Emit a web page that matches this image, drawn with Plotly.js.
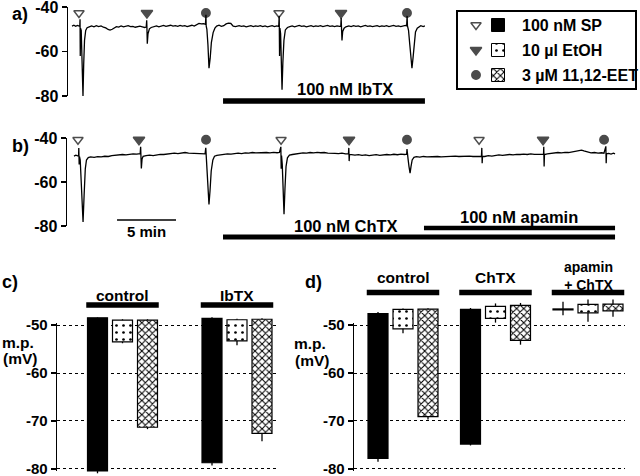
<!DOCTYPE html>
<html>
<head>
<meta charset="utf-8">
<script src="https://cdn.plot.ly/plotly-3.0.1.min.js"></script>
<style>html,body{margin:0;padding:0;background:#fff}#chart{width:640px;height:476px}</style>
</head>
<body>
<div id="chart"></div>
<script>
// ---------------- DATA ----------------
// Panel a: membrane potential recording, [time (min), mV]
const traceA = [
[0.34,-48.6],[0.5,-48.2],[0.65,-48.7],[0.8,-48.3],[0.95,-48.6],
[1.0,-48.5],[1.02,-45.5],[1.04,-62],[1.06,-49.5],[1.12,-50.5],[1.2,-66],[1.27,-80],[1.33,-66],[1.4,-55],[1.5,-50.5],[1.62,-49.3],[1.8,-48.9],
[2.0,-48.5],[2.2,-48.9],[2.4,-48.4],[2.6,-48.8],[2.8,-48.5],[3.0,-49.1],[3.2,-49.4],[3.4,-50.1],[3.56,-50.4],[3.75,-50.0],[3.9,-49.3],[4.1,-48.8],[4.3,-49.0],[4.5,-48.5],[4.7,-48.9],[4.9,-48.6],[5.1,-48.4],[5.3,-48.8],[5.5,-48.7],[5.7,-49.1],[5.9,-48.8],[6.1,-48.6],[6.3,-48.9],[6.5,-49.2],[6.63,-49.0],
[6.67,-46],[6.69,-49.5],[6.72,-56.5],[6.78,-52],[6.9,-49.8],[7.05,-49.2],
[7.3,-48.8],[7.5,-48.5],[7.7,-48.9],[7.9,-48.6],[8.1,-48.3],[8.3,-48.7],[8.5,-48.5],[8.7,-48.2],[8.9,-48.6],[9.1,-48.4],[9.3,-48.7],[9.5,-48.3],[9.7,-48.6],[9.9,-48.4],[10.1,-48.8],[10.3,-48.5],[10.5,-48.2],[10.7,-48.6],[10.9,-48.0],[11.1,-47.4],[11.3,-47.6],[11.5,-47.5],[11.65,-47.8],
[11.69,-43.5],[11.71,-48.5],[11.77,-50],[11.86,-57],[11.95,-67.5],[12.05,-63],[12.15,-56],[12.3,-51.5],[12.45,-49.5],[12.6,-48.6],
[12.8,-48.2],[13.0,-48.7],[13.2,-48.4],[13.4,-47.6],[13.6,-47.3],[13.8,-47.4],[14.0,-48.6],[14.2,-48.8],[14.5,-48.4],[14.7,-48.7],[14.9,-48.5],[15.1,-48.9],
[15.3,-48.6],[15.5,-48.4],[15.7,-48.8],[15.9,-48.5],[16.1,-48.7],[16.3,-48.4],[16.5,-48.8],[16.7,-48.5],[16.9,-48.9],[17.1,-48.6],[17.3,-48.4],[17.5,-48.8],[17.7,-48.5],[17.86,-48.7],
[17.9,-44],[17.93,-62],[17.96,-49.5],[18.02,-52],[18.08,-65],[18.14,-77.2],[18.21,-65],[18.3,-55],[18.42,-50.3],[18.6,-49.2],[18.8,-48.8],
[19.0,-48.5],[19.2,-48.9],[19.4,-48.6],[19.6,-48.3],[19.8,-48.7],[20.0,-48.5],[20.2,-48.9],[20.4,-48.6],[20.6,-48.4],[20.8,-48.8],[21.0,-48.5],[21.2,-48.7],[21.4,-48.4],[21.6,-48.8],[21.8,-48.6],[22.0,-48.3],[22.2,-48.7],[22.4,-48.5],[22.6,-48.8],[22.8,-48.5],[23.0,-48.7],[23.12,-48.6],
[23.15,-45],[23.17,-49.5],[23.22,-55],[23.28,-51],[23.4,-49.5],[23.55,-48.9],
[23.8,-48.5],[24.0,-48.8],[24.2,-48.4],[24.4,-48.7],[24.6,-48.5],[24.8,-48.9],[25.0,-48.6],[25.2,-48.3],[25.4,-48.7],[25.6,-48.5],[25.8,-48.8],[26.0,-48.6],[26.2,-48.4],[26.4,-48.8],[26.6,-48.5],[26.8,-48.7],[27.0,-48.4],[27.2,-48.8],[27.4,-48.6],[27.6,-48.3],[27.8,-48.7],[28.0,-48.5],[28.2,-48.8],[28.4,-48.5],[28.6,-48.3],[28.7,-48.5],
[28.74,-44],[28.77,-48.5],[28.86,-50.5],[28.97,-57],[29.15,-67.5],[29.24,-63],[29.33,-56],[29.45,-51.2],[29.6,-49.5],[29.75,-48.8],[29.9,-48.4],[30.1,-48.8],[30.25,-48.5]
];
const stimA_t    = [0.93, 6.69, 11.69, 17.88, 23.14, 28.73];
const stimA_type = ['SP','EtOH','EET','SP','EtOH','EET'];
const treatA_label = ['100 nM IbTX'];
const treatA_start = [13.14];
const treatA_end   = [30.25];

// Panel b recording
const traceB = [
[0.59,-48.2],[0.75,-47.8],[0.9,-48.1],[0.98,-48.0],[1.0,-44.5],[1.03,-52],[1.06,-48.5],[1.12,-50],[1.22,-63],[1.36,-78.2],[1.45,-66],[1.55,-54],[1.65,-50],[1.8,-48.9],[2.0,-48.6],[2.3,-48.8],[2.6,-48.5],[2.9,-48.6],[3.2,-48.3],[3.5,-48.4],[3.8,-48.0],[4.1,-47.8],[4.4,-47.9],[4.7,-47.5],[5.0,-47.7],[5.3,-47.4],[5.6,-47.2],[5.9,-47.3],[6.1,-47.0],
[6.2,-47.1],[6.24,-44],[6.27,-47.5],[6.3,-53.8],[6.36,-49.5],[6.45,-48.3],[6.7,-48.0],[7.0,-47.8],[7.3,-48.0],[7.6,-47.6],[7.9,-47.4],[8.2,-47.5],[8.5,-47.2],[8.8,-47.0],[9.1,-46.9],[9.4,-47.1],[9.7,-46.8],[10.0,-46.6],[10.3,-46.9],[10.6,-47.0],[10.9,-46.8],[11.2,-47.1],[11.5,-47.0],[11.7,-47.2],
[11.76,-44.5],[11.79,-48],[11.85,-50],[11.93,-58],[12.03,-70.2],[12.12,-64],[12.22,-55],[12.36,-50],[12.5,-48.3],[12.7,-47.9],[13.0,-47.6],[13.3,-47.4],[13.6,-47.2],[13.9,-47.3],[14.2,-47.0],[14.5,-46.9],[14.8,-47.1],[15.1,-46.8],[15.4,-46.9],[15.7,-46.6],[16.0,-46.8],[16.3,-46.7],[16.6,-46.9],[16.9,-46.6],[17.2,-46.8],[17.5,-46.5],[17.8,-46.7],[18.0,-46.6],
[18.12,-44],[18.15,-54],[18.18,-48],[18.24,-52],[18.3,-62],[18.39,-74.6],[18.47,-63],[18.56,-53],[18.68,-49],[18.85,-47.8],[19.1,-47.5],[19.4,-47.2],[19.7,-47.0],[20.0,-46.8],[20.3,-46.9],[20.6,-46.6],[20.9,-46.8],[21.2,-46.5],[21.5,-46.7],[21.8,-46.6],[22.1,-46.9],[22.4,-46.8],[22.7,-47.0],[23.0,-47.1],[23.3,-46.9],[23.6,-47.2],[23.85,-47.1],
[23.88,-44.5],[23.91,-50.5],[23.94,-47.5],[24.1,-47.6],[24.4,-47.8],[24.7,-47.6],[25.0,-47.9],[25.3,-47.7],[25.6,-48.0],[25.9,-47.8],[26.2,-47.6],[26.5,-47.9],[26.8,-47.7],[27.1,-47.5],[27.4,-47.7],[27.7,-47.4],[28.0,-47.6],[28.3,-47.3],[28.6,-47.5],[28.78,-47.4],
[28.81,-45],[28.84,-47.8],[28.9,-49.5],[28.98,-53],[29.07,-56],[29.15,-53],[29.25,-50],[29.4,-48.8],[29.6,-48.5],[29.9,-48.7],[30.2,-48.4],[30.5,-48.6],[30.8,-48.5],[31.1,-48.7],[31.4,-48.4],[31.7,-48.6],[32.0,-48.5],[32.3,-48.3],[32.6,-48.5],[32.9,-48.2],[33.2,-48.4],[33.5,-48.3],[33.8,-48.5],[34.1,-48.2],[34.4,-48.4],[34.7,-48.3],[35.0,-48.5],[35.12,-48.3],
[35.15,-44.5],[35.18,-51.5],[35.21,-48.3],[35.4,-48.4],[35.7,-48.0],[36.0,-48.2],[36.3,-47.9],[36.6,-47.7],[36.9,-47.9],[37.2,-47.6],[37.5,-47.5],[37.8,-47.7],[38.1,-47.4],[38.4,-47.5],[38.7,-47.3],[39.0,-47.5],[39.3,-47.2],[39.6,-47.4],[39.9,-47.3],[40.2,-47.5],[40.38,-47.3],
[40.4,-44],[40.43,-53],[40.46,-47.5],[40.7,-47.2],[41.0,-47.0],[41.3,-46.9],[41.6,-46.6],[41.9,-46.8],[42.2,-46.5],[42.5,-46.6],[42.8,-46.3],[43.1,-46.2],[43.4,-46.0],[43.6,-45.5],[43.8,-45.9],[44.1,-46.4],[44.4,-46.8],[44.7,-46.6],[45.0,-46.9],[45.3,-46.7],[45.5,-46.9],
[45.66,-43.8],[45.69,-51.5],[45.72,-47.2],[45.9,-47.0],[46.1,-47.3],[46.3,-46.9],[46.44,-47.2]
];
const stimB_t    = [0.93, 6.10, 11.78, 18.14, 23.9, 28.81, 34.92, 40.34, 45.51];
const stimB_type = ['SP','EtOH','EET','SP','EtOH','EET','SP','EtOH','EET'];
const treatB_label = ['100 nM ChTX','100 nM apamin'];
const treatB_start = [13.22, 30.25];
const treatB_end   = [46.44, 46.44];
const scaleBarMin = 5;

// Agents (legend)
const agentKeys  = ['SP','EtOH','EET'];
const agentNames = ['100 nM SP','10 µl EtOH','3 µM 11,12-EET'];

// Panel c: resting m.p. (bar top) and peak m.p. (bar bottom), mV
const cGroups  = ['control','IbTX'];
const cRest    = [-48.5,-49.0,-49.0, -48.6,-48.9,-48.8];
const cRestErr = [0.1, 0.2, 0.2, 0.2, 0.2, 0.2];
const cPeak    = [-80.4,-53.5,-71.3, -78.7,-53.3,-72.6];
const cPeakErr = [0.5, 0.3, 0.4, 0.6, 0.9, 1.6];

// Panel d
const dGroups  = ['control','ChTX','apamin + ChTX'];
const dRest    = [-47.6,-46.75,-46.7, -46.75,-46.1,-45.9, -46.65,-45.7,-45.65];
const dRestErr = [0.3, 0.2, 0.2, 0.3, 0.6, 0.5, 1.5, 1.0, 0.95];
const dPeak    = [-77.8,-50.8,-69.1, -74.8,-48.6,-53.2, -46.85,-47.45,-47.05];
const dPeakErr = [0.7, 0.9, 0.6, 0.3, 0.9, 0.9, 1.1, 1.85, 1.25];

// ---------------- STYLE / LAYOUT ----------------
const W = 640, H = 476;
const px = x => x / W, py = y => 1 - y / H;
const FONT = 'Liberation Sans, Arial, Helvetica, sans-serif';
const bold = (s) => ({family: FONT, size: s, color: '#000', weight: 'bold'});
const symbolOf = {SP: 'triangle-down-open', EtOH: 'triangle-down', EET: 'circle'};
const sizeOf = {SP: 9, EtOH: 10, EET: 8.5};
const patternOf = {
  SP:   {shape: ''},
  EtOH: {shape: '.', size: 7, solidity: 0.12, fgcolor: '#000', bgcolor: '#fff'},
  EET:  {shape: 'x', size: 5, solidity: 0.38, fgcolor: '#000', bgcolor: '#fff'}
};
const fillOf = {SP: '#000', EtOH: '#fff', EET: '#fff'};

// axis geometry (pixel rows of tick values)
const geomA  = {vTop: -40, pxTop: 7,     vBot: -80, pxBot: 96};
const geomB  = {vTop: -40, pxTop: 138,   vBot: -80, pxBot: 226};
const geomCD = {vTop: -49.6, pxTop: 323.1, vBot: -80.4, pxBot: 470.9};
// hidden full-height "canvas" y axes that keep the same value->pixel mapping
function canvasRange(g, pTop, pBot) {
  const k = (g.vTop - g.vBot) / (g.pxBot - g.pxTop);
  return [g.vBot - (pBot - g.pxBot) * k, g.vTop + (g.pxTop - pTop) * k];
}
const canA = [0, 114], canB = [124, 252], canCD = [252, 476];

const traces = [];
const annotations = [];

// recordings
function addRecording(tr, stimT, stimType, xa, yMain, yCan, markLevel) {
  traces.push({type: 'scatter', mode: 'lines', x: tr.map(p => p[0]), y: tr.map(p => p[1]),
    xaxis: xa, yaxis: yCan, line: {color: '#000', width: 1.3}, hoverinfo: 'skip'});
  traces.push({type: 'scatter', mode: 'markers', x: stimT, y: stimT.map(() => markLevel),
    xaxis: xa, yaxis: yMain, cliponaxis: false,
    marker: {symbol: stimType.map(k => symbolOf[k]), size: stimType.map(k => sizeOf[k]), color: '#000',
      line: {color: '#000', width: 1.4}}});
}
addRecording(traceA, stimA_t, stimA_type, 'x', 'y', 'y6', -42.7);
addRecording(traceB, stimB_t, stimB_type, 'x2', 'y2', 'y7', -40.8);

function addTreatment(labels, starts, ends, levels, textPos, xa, ya, widths) {
  labels.forEach((lab, i) => {
    traces.push({type: 'scatter', mode: 'lines', x: [starts[i], ends[i]], y: [levels[i], levels[i]],
      xaxis: xa, yaxis: ya, line: {color: '#000', width: widths[i]}, hoverinfo: 'skip'});
    annotations.push({xref: xa, yref: ya, x: textPos[i][0], y: textPos[i][1], text: lab,
      showarrow: false, font: bold(16.5), xanchor: 'center', yanchor: 'middle'});
  });
}
addTreatment(treatA_label, treatA_start, treatA_end, [-82.2], [[23.47, -76.9]], 'x', 'y6', [5.5]);
addTreatment(treatB_label, treatB_start, treatB_end, [-85.0, -80.9], [[23.6, -80.0], [38.3, -75.9]], 'x2', 'y7', [5, 4.5]);

// scale bar
const sbStart = 4.24;
traces.push({type: 'scatter', mode: 'lines', x: [sbStart, sbStart + scaleBarMin], y: [-77.3, -77.3],
  xaxis: 'x2', yaxis: 'y7', line: {color: '#000', width: 1.6}, hoverinfo: 'skip'});
annotations.push({xref: 'x2', yref: 'y7', x: sbStart + scaleBarMin / 2, y: -82.5, text: scaleBarMin + ' min',
  showarrow: false, font: bold(15), yanchor: 'middle'});

// bar panels
function addBars(groups, rest, restErr, peak, peakErr, gap, xa, ya, yMain, barLevel, textLevel, multiLevel) {
  const nA = agentKeys.length;
  const pos = [];
  groups.forEach((g, gi) => agentKeys.forEach((k, ai) => pos.push(1 + gi * gap + ai)));
  traces.push({type: 'scatter', mode: 'markers', x: [], y: [], xaxis: xa, yaxis: yMain});
  agentKeys.forEach((k, ai) => {
    const idx = groups.map((g, gi) => gi * nA + ai);
    traces.push({type: 'bar', xaxis: xa, yaxis: ya, x: idx.map(i => pos[i]),
      base: idx.map(i => rest[i]), y: idx.map(i => peak[i] - rest[i]), width: 0.8, hoverinfo: 'skip',
      marker: {color: fillOf[k], line: {color: '#000', width: 1.2}, pattern: patternOf[k]},
      error_y: {type: 'data', symmetric: false, array: idx.map(() => 0), arrayminus: idx.map(i => peakErr[i]),
        width: 0, thickness: 1.3, color: '#000'}});
    traces.push({type: 'scatter', mode: 'markers', xaxis: xa, yaxis: ya, x: idx.map(i => pos[i]),
      y: idx.map(i => rest[i]), hoverinfo: 'skip', marker: {size: 1, opacity: 0},
      error_y: {type: 'data', symmetric: false, array: idx.map(i => restErr[i]), arrayminus: idx.map(() => 0),
        width: 0, thickness: 1.3, color: '#000'}});
  });
  groups.forEach((g, gi) => {
    const x0 = pos[gi * nA] - 0.45, x1 = pos[gi * nA + nA - 1] + 0.45;
    traces.push({type: 'scatter', mode: 'lines', xaxis: xa, yaxis: ya, x: [x0, x1], y: [barLevel, barLevel],
      line: {color: '#000', width: 5.5}, hoverinfo: 'skip'});
    const multi = g.indexOf(' + ') >= 0;
    annotations.push({xref: xa, yref: ya, x: (x0 + x1) / 2, y: multi ? multiLevel : textLevel,
      text: g.replace(' + ', '<br>+ '), showarrow: false, font: bold(multi ? 14 : 15.5),
      yanchor: 'middle', align: 'center'});
  });
}
addBars(cGroups, cRest, cRestErr, cPeak, cPeakErr, 4.58, 'x3', 'y8', 'y3', -45.83, -43.75, -43.75);
addBars(dGroups, dRest, dRestErr, dPeak, dPeakErr, 3.7, 'x4', 'y8', 'y4', -43.2, -40.05, -39.68);

// legend (drawn in its own pixel-unit box)
const legRows = [25, 50, 75];
traces.push({type: 'scatter', mode: 'markers', xaxis: 'x5', yaxis: 'y5', x: legRows.map(() => 476), y: legRows,
  cliponaxis: false, marker: {symbol: agentKeys.map(k => symbolOf[k]), size: agentKeys.map(k => sizeOf[k]), color: '#000',
  line: {color: '#000', width: 1.4}}});
agentKeys.forEach((k, i) => {
  traces.push({type: 'bar', xaxis: 'x5', yaxis: 'y5', x: [498], base: [legRows[i] - 6.5], y: [13], width: 13,
    hoverinfo: 'skip', marker: {color: fillOf[k], line: {color: '#000', width: 1}, pattern: patternOf[k]}});
  annotations.push({xref: 'x5', yref: 'y5', x: 520, y: legRows[i], text: agentNames[i], showarrow: false,
    font: bold(16), xanchor: 'left', yanchor: 'middle'});
});

// panel letters and axis titles
[['a)', 20, 14], ['b)', 20, 146], ['c)', 10, 282], ['d)', 313, 282]].forEach(([t, x, y]) =>
  annotations.push({xref: 'paper', yref: 'paper', x: px(x), y: py(y), text: t, showarrow: false,
    font: bold(18), xanchor: 'center', yanchor: 'middle'}));
[[18, 342, 'm.p.'], [20, 358, '(mV)'], [310, 343, 'm.p.'], [312, 360, '(mV)']].forEach(([x, y, t]) =>
  annotations.push({xref: 'paper', yref: 'paper', x: px(x), y: py(y), text: t, showarrow: false,
    font: bold(15.5), xanchor: 'center', yanchor: 'middle'}));

const hiddenX = (dom, rng, anchor) => ({domain: dom, range: rng, anchor: anchor, visible: false, fixedrange: true});
const hiddenY = (pTopBot, g, anchor) => ({domain: [py(pTopBot[1]), py(pTopBot[0])], range: canvasRange(g, pTopBot[0], pTopBot[1]),
  anchor: anchor, visible: false, fixedrange: true});
const mainY = (g, anchor, tv, fs) => ({domain: [py(g.pxBot), py(g.pxTop)], range: [g.vBot, g.vTop], anchor: anchor,
  tickvals: tv, ticktext: tv.map(v => '-' + Math.abs(v)), ticks: 'outside', ticklen: 5, tickwidth: 1.4, tickcolor: '#000',
  showline: true, linecolor: '#000', linewidth: 1.4, showgrid: false, zeroline: false, tickfont: bold(fs),
  ticklabeloverflow: 'allow', fixedrange: true});
const yC = Object.assign(mainY(geomCD, 'x3', [-50, -60, -70, -80], 15), {showgrid: true, gridcolor: '#000', gridwidth: 1, griddash: 'dot'});
const yD = Object.assign(mainY(geomCD, 'x4', [-50, -60, -70, -80], 15), {showgrid: true, gridcolor: '#000', gridwidth: 1, griddash: 'dot'});

const layout = {
  width: W, height: H, margin: {l: 0, r: 0, t: 0, b: 0}, showlegend: false,
  paper_bgcolor: '#fff', plot_bgcolor: 'rgba(0,0,0,0)', barmode: 'overlay',
  font: {family: FONT, color: '#000'},
  xaxis:  hiddenX([px(68), px(430)], [0, 30.68], 'y'),
  yaxis:  mainY(geomA, 'x', [-40, -60, -80], 16),
  xaxis2: hiddenX([px(67), px(620)], [0, 46.86], 'y2'),
  yaxis2: mainY(geomB, 'x2', [-40, -60, -80], 16),
  xaxis3: hiddenX([px(57), px(278)], [-0.62, 8.22], 'y3'),
  yaxis3: yC,
  xaxis4: hiddenX([px(354), px(625)], [0.04, 10.88], 'y4'),
  yaxis4: yD,
  xaxis5: {domain: [px(458), px(635)], range: [458, 635], anchor: 'y5', showline: true, mirror: true,
    linecolor: '#000', linewidth: 1.6, ticks: '', showticklabels: false, showgrid: false, zeroline: false, fixedrange: true},
  yaxis5: {domain: [py(88), py(12)], range: [88, 12], anchor: 'x5', showline: true, mirror: true,
    linecolor: '#000', linewidth: 1.6, ticks: '', showticklabels: false, showgrid: false, zeroline: false, fixedrange: true},
  yaxis6: hiddenY(canA, geomA, 'x'),
  yaxis7: hiddenY(canB, geomB, 'x2'),
  yaxis8: hiddenY(canCD, geomCD, 'x3'),
  annotations: annotations
};

Plotly.newPlot('chart', traces, layout, {staticPlot: true, displayModeBar: false});
</script>
</body>
</html>
